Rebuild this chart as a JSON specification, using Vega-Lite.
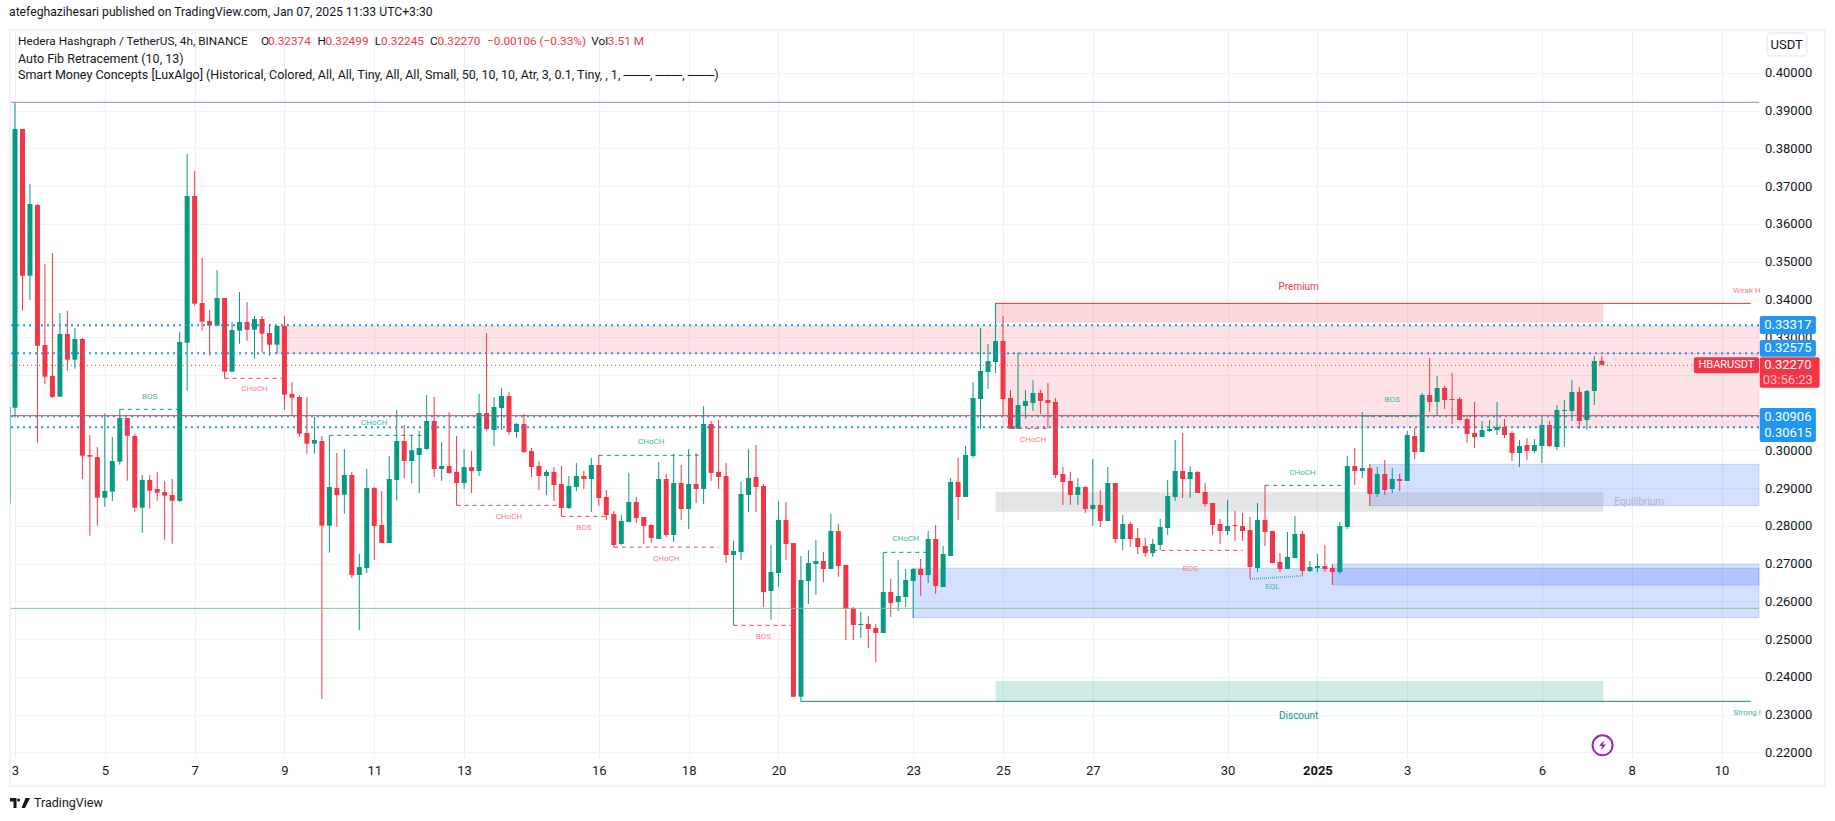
{"$schema":"https://vega.github.io/schema/vega-lite/v6.json","width":1748,"height":727,"autosize":{"type":"none"},"padding":{"left":11,"top":31,"right":76,"bottom":63},"background":"#ffffff","title":{"text":"atefeghazihesari published on TradingView.com, Jan 07, 2025 11:33 UTC+3:30","anchor":"start","frame":"group","fontSize":12.2,"fontWeight":"normal","font":"Roboto","color":"#131722","offset":11,"dx":-2},"config":{"view":{"stroke":null},"font":"Roboto"},
"resolve":{"scale":{"color":"independent","fill":"independent","stroke":"independent"}},
"datasets":{
"candles":[
{"x":0,"o":0.31132,"h":0.39221,"l":0.30867,"c":0.38514},{"x":1,"o":0.38514,"h":0.38514,"l":0.33702,"c":0.34629},{"x":2,"o":0.34629,"h":0.37057,"l":0.33993,"c":0.36527},{"x":3,"o":0.36501,"h":0.36527,"l":0.30205,"c":0.32775},{"x":4,"o":0.32792,"h":0.34938,"l":0.31759,"c":0.31953},{"x":5,"o":0.31971,"h":0.35229,"l":0.31388,"c":0.31415},{"x":6,"o":0.31424,"h":0.3364,"l":0.31424,"c":0.33084},{"x":7,"o":0.33084,"h":0.33693,"l":0.32112,"c":0.32404},{"x":8,"o":0.32404,"h":0.33243,"l":0.32165,"c":0.32951},{"x":9,"o":0.32951,"h":0.32978,"l":0.29243,"c":0.29861},
{"x":10,"o":0.29878,"h":0.30408,"l":0.27741,"c":0.29834},{"x":11,"o":0.29825,"h":0.3009,"l":0.28006,"c":0.28748},{"x":12,"o":0.28748,"h":0.30982,"l":0.2851,"c":0.28925},{"x":13,"o":0.28907,"h":0.30355,"l":0.2866,"c":0.29719},{"x":14,"o":0.29702,"h":0.31088,"l":0.29622,"c":0.30859},{"x":15,"o":0.30859,"h":0.30859,"l":0.29198,"c":0.3039},{"x":16,"o":0.30382,"h":0.30435,"l":0.28377,"c":0.28483},{"x":17,"o":0.28483,"h":0.29349,"l":0.27821,"c":0.29216},{"x":18,"o":0.29216,"h":0.29349,"l":0.28457,"c":0.28933},{"x":19,"o":0.28978,"h":0.29428,"l":0.28669,"c":0.28881},
{"x":20,"o":0.28898,"h":0.2919,"l":0.27636,"c":0.28801},{"x":21,"o":0.28819,"h":0.29243,"l":0.2753,"c":0.28669},{"x":22,"o":0.2866,"h":0.33137,"l":0.28633,"c":0.32872},{"x":23,"o":0.32854,"h":0.37852,"l":0.31583,"c":0.36739},{"x":24,"o":0.36739,"h":0.37401,"l":0.33834,"c":0.33887},{"x":25,"o":0.33905,"h":0.35097,"l":0.33172,"c":0.3341},{"x":26,"o":0.33428,"h":0.33719,"l":0.3251,"c":0.33304},{"x":27,"o":0.33304,"h":0.34779,"l":0.33304,"c":0.34037},{"x":28,"o":0.34037,"h":0.34037,"l":0.31909,"c":0.32086},{"x":29,"o":0.32086,"h":0.33402,"l":0.32086,"c":0.3319},
{"x":30,"o":0.33172,"h":0.34196,"l":0.32828,"c":0.33402},{"x":31,"o":0.33402,"h":0.33931,"l":0.32907,"c":0.33198},{"x":32,"o":0.33198,"h":0.3356,"l":0.3243,"c":0.33481},{"x":33,"o":0.33481,"h":0.3356,"l":0.32589,"c":0.33093},{"x":34,"o":0.3311,"h":0.33349,"l":0.3251,"c":0.32801},{"x":35,"o":0.32801,"h":0.33296,"l":0.32563,"c":0.33296},{"x":36,"o":0.33296,"h":0.3356,"l":0.31079,"c":0.31477},{"x":37,"o":0.31494,"h":0.31812,"l":0.3092,"c":0.31397},{"x":38,"o":0.31415,"h":0.31468,"l":0.30364,"c":0.30443},{"x":39,"o":0.30461,"h":0.31415,"l":0.29914,"c":0.30179},
{"x":40,"o":0.30179,"h":0.30894,"l":0.29914,"c":0.30276},{"x":41,"o":0.30249,"h":0.30382,"l":0.23415,"c":0.28006},{"x":42,"o":0.28006,"h":0.30399,"l":0.27292,"c":0.29031},{"x":43,"o":0.29004,"h":0.29931,"l":0.2798,"c":0.28819},{"x":44,"o":0.28828,"h":0.30037,"l":0.28324,"c":0.29349},{"x":45,"o":0.29349,"h":0.29428,"l":0.2662,"c":0.267},{"x":46,"o":0.267,"h":0.27256,"l":0.25243,"c":0.26911},{"x":47,"o":0.26885,"h":0.29508,"l":0.26753,"c":0.29004},{"x":48,"o":0.29004,"h":0.29031,"l":0.27097,"c":0.27998},{"x":49,"o":0.28024,"h":0.28925,"l":0.27547,"c":0.27547},
{"x":50,"o":0.27547,"h":0.29852,"l":0.27547,"c":0.29243},{"x":51,"o":0.29216,"h":0.3107,"l":0.28669,"c":0.30249},{"x":52,"o":0.30249,"h":0.30673,"l":0.29269,"c":0.29719},{"x":53,"o":0.29719,"h":0.30408,"l":0.29128,"c":0.30005},{"x":54,"o":0.29878,"h":0.30514,"l":0.28872,"c":0.30064},{"x":55,"o":0.30037,"h":0.31468,"l":0.30011,"c":0.30779},{"x":56,"o":0.30779,"h":0.31415,"l":0.29296,"c":0.29508},{"x":57,"o":0.29508,"h":0.30223,"l":0.2919,"c":0.29587},{"x":58,"o":0.29587,"h":0.31011,"l":0.29375,"c":0.29402},{"x":59,"o":0.29428,"h":0.30382,"l":0.28545,"c":0.29137},
{"x":60,"o":0.29137,"h":0.30037,"l":0.28978,"c":0.2956},{"x":61,"o":0.2956,"h":0.29984,"l":0.28872,"c":0.29455},{"x":62,"o":0.29455,"h":0.31494,"l":0.29322,"c":0.30991},{"x":63,"o":0.30991,"h":0.3311,"l":0.30514,"c":0.30567},{"x":64,"o":0.30541,"h":0.31415,"l":0.30117,"c":0.3115},{"x":65,"o":0.31123,"h":0.31653,"l":0.30541,"c":0.31441},{"x":66,"o":0.31441,"h":0.31547,"l":0.30408,"c":0.30488},{"x":67,"o":0.30488,"h":0.30726,"l":0.30329,"c":0.307},{"x":68,"o":0.307,"h":0.30964,"l":0.29932,"c":0.29958},{"x":69,"o":0.29984,"h":0.30064,"l":0.29296,"c":0.2956},
{"x":70,"o":0.29587,"h":0.29719,"l":0.28951,"c":0.29322},{"x":71,"o":0.29322,"h":0.29481,"l":0.28819,"c":0.29428},{"x":72,"o":0.29428,"h":0.2956,"l":0.2866,"c":0.29084},{"x":73,"o":0.2911,"h":0.29587,"l":0.28262,"c":0.28474},{"x":74,"o":0.28474,"h":0.29322,"l":0.28448,"c":0.29057},{"x":75,"o":0.29031,"h":0.29667,"l":0.28925,"c":0.29322},{"x":76,"o":0.29322,"h":0.29455,"l":0.28978,"c":0.29243},{"x":77,"o":0.29243,"h":0.29799,"l":0.28368,"c":0.29613},{"x":78,"o":0.29613,"h":0.29878,"l":0.28527,"c":0.28739},{"x":79,"o":0.28766,"h":0.28951,"l":0.28157,"c":0.28289},
{"x":80,"o":0.28315,"h":0.28395,"l":0.27441,"c":0.27494},{"x":81,"o":0.27521,"h":0.28289,"l":0.27494,"c":0.2813},{"x":82,"o":0.28104,"h":0.29402,"l":0.28104,"c":0.28633},{"x":83,"o":0.28633,"h":0.28766,"l":0.28077,"c":0.2821},{"x":84,"o":0.28236,"h":0.28236,"l":0.27521,"c":0.27998},{"x":85,"o":0.28024,"h":0.28051,"l":0.27547,"c":0.2768},{"x":86,"o":0.27653,"h":0.29693,"l":0.27653,"c":0.29243},{"x":87,"o":0.29243,"h":0.29375,"l":0.27706,"c":0.27759},{"x":88,"o":0.27759,"h":0.29905,"l":0.27574,"c":0.29137},{"x":89,"o":0.29137,"h":0.29614,"l":0.28157,"c":0.28448},
{"x":90,"o":0.28448,"h":0.30038,"l":0.27918,"c":0.2911},{"x":91,"o":0.2911,"h":0.29932,"l":0.28607,"c":0.28978},{"x":92,"o":0.28978,"h":0.31177,"l":0.28581,"c":0.307},{"x":93,"o":0.307,"h":0.30779,"l":0.2919,"c":0.29402},{"x":94,"o":0.29428,"h":0.30806,"l":0.28978,"c":0.29296},{"x":95,"o":0.29322,"h":0.29667,"l":0.27018,"c":0.2723},{"x":96,"o":0.2723,"h":0.27601,"l":0.25367,"c":0.27336},{"x":97,"o":0.27309,"h":0.29163,"l":0.27097,"c":0.28846},{"x":98,"o":0.28819,"h":0.30038,"l":0.28369,"c":0.2927},{"x":99,"o":0.29296,"h":0.30144,"l":0.28369,"c":0.29031},
{"x":100,"o":0.29057,"h":0.2911,"l":0.25852,"c":0.2625},{"x":101,"o":0.26276,"h":0.27495,"l":0.25517,"c":0.26779},{"x":102,"o":0.26753,"h":0.2866,"l":0.26382,"c":0.28157},{"x":103,"o":0.28157,"h":0.28634,"l":0.27097,"c":0.27521},{"x":104,"o":0.27548,"h":0.27548,"l":0.23477,"c":0.23477},{"x":105,"o":0.23477,"h":0.27203,"l":0.23353,"c":0.26567},{"x":106,"o":0.26541,"h":0.27362,"l":0.25932,"c":0.27018},{"x":107,"o":0.26991,"h":0.27627,"l":0.2617,"c":0.27071},{"x":108,"o":0.27071,"h":0.27309,"l":0.26514,"c":0.26859},{"x":109,"o":0.26859,"h":0.28316,"l":0.26859,"c":0.27865},
{"x":110,"o":0.27865,"h":0.28051,"l":0.26647,"c":0.26938},{"x":111,"o":0.26965,"h":0.26965,"l":0.24978,"c":0.25799},{"x":112,"o":0.25826,"h":0.25852,"l":0.24978,"c":0.25375},{"x":113,"o":0.25375,"h":0.2572,"l":0.25031,"c":0.25402},{"x":114,"o":0.25402,"h":0.25614,"l":0.24766,"c":0.25269},{"x":115,"o":0.25296,"h":0.25402,"l":0.24395,"c":0.25163},{"x":116,"o":0.25163,"h":0.273,"l":0.25163,"c":0.2625},{"x":117,"o":0.2625,"h":0.26594,"l":0.25587,"c":0.25958},{"x":118,"o":0.25985,"h":0.27097,"l":0.25746,"c":0.26144},{"x":119,"o":0.26117,"h":0.26859,"l":0.25852,"c":0.26567},
{"x":120,"o":0.26541,"h":0.26877,"l":0.25561,"c":0.26859},{"x":121,"o":0.26859,"h":0.27124,"l":0.26144,"c":0.267},{"x":122,"o":0.267,"h":0.27865,"l":0.26488,"c":0.27653},{"x":123,"o":0.27653,"h":0.28024,"l":0.26197,"c":0.26408},{"x":124,"o":0.26382,"h":0.27468,"l":0.26382,"c":0.27256},{"x":125,"o":0.27203,"h":0.29269,"l":0.27203,"c":0.29163},{"x":126,"o":0.29163,"h":0.29799,"l":0.28157,"c":0.28766},{"x":127,"o":0.28766,"h":0.30117,"l":0.28766,"c":0.29879},{"x":128,"o":0.29852,"h":0.31812,"l":0.29799,"c":0.31389},{"x":129,"o":0.31362,"h":0.33243,"l":0.30567,"c":0.32104},
{"x":130,"o":0.32077,"h":0.32819,"l":0.31627,"c":0.32369},{"x":131,"o":0.32342,"h":0.33905,"l":0.32051,"c":0.32899},{"x":132,"o":0.32899,"h":0.33561,"l":0.30938,"c":0.31362},{"x":133,"o":0.31389,"h":0.31601,"l":0.30577,"c":0.30577},{"x":134,"o":0.30577,"h":0.32599,"l":0.30577,"c":0.31204},{"x":135,"o":0.31177,"h":0.31601,"l":0.30833,"c":0.3131},{"x":136,"o":0.31257,"h":0.31866,"l":0.31045,"c":0.31522},{"x":137,"o":0.31522,"h":0.31601,"l":0.30965,"c":0.3131},{"x":138,"o":0.31336,"h":0.31786,"l":0.30594,"c":0.31257},{"x":139,"o":0.31283,"h":0.31389,"l":0.2927,"c":0.29349},
{"x":140,"o":0.29376,"h":0.29561,"l":0.28555,"c":0.29164},{"x":141,"o":0.2919,"h":0.29429,"l":0.28555,"c":0.2882},{"x":142,"o":0.2882,"h":0.2927,"l":0.28555,"c":0.29031},{"x":143,"o":0.29031,"h":0.29058,"l":0.28343,"c":0.28449},{"x":144,"o":0.28449,"h":0.29773,"l":0.27998,"c":0.28555},{"x":145,"o":0.28555,"h":0.28952,"l":0.27972,"c":0.28131},{"x":146,"o":0.28131,"h":0.29561,"l":0.28131,"c":0.29137},{"x":147,"o":0.29137,"h":0.29137,"l":0.27548,"c":0.27654},{"x":148,"o":0.27654,"h":0.2829,"l":0.2736,"c":0.28051},{"x":149,"o":0.28051,"h":0.28104,"l":0.27442,"c":0.27654},
{"x":150,"o":0.2768,"h":0.27945,"l":0.2725,"c":0.27442},{"x":151,"o":0.27469,"h":0.2768,"l":0.2718,"c":0.2728},{"x":152,"o":0.2728,"h":0.27654,"l":0.2718,"c":0.27522},{"x":153,"o":0.27495,"h":0.28184,"l":0.27363,"c":0.27972},{"x":154,"o":0.27945,"h":0.29217,"l":0.2776,"c":0.28793},{"x":155,"o":0.28767,"h":0.30276,"l":0.28661,"c":0.29455},{"x":156,"o":0.29455,"h":0.30462,"l":0.2874,"c":0.29243},{"x":157,"o":0.29243,"h":0.29588,"l":0.2874,"c":0.29429},{"x":158,"o":0.29429,"h":0.29455,"l":0.28873,"c":0.28873},{"x":159,"o":0.28899,"h":0.29137,"l":0.28502,"c":0.28581},
{"x":160,"o":0.28608,"h":0.28608,"l":0.2776,"c":0.28025},{"x":161,"o":0.28051,"h":0.28184,"l":0.27522,"c":0.27866},{"x":162,"o":0.27866,"h":0.28687,"l":0.2776,"c":0.27998},{"x":163,"o":0.28024,"h":0.28395,"l":0.27601,"c":0.27998},{"x":164,"o":0.27998,"h":0.28342,"l":0.27601,"c":0.27865},{"x":165,"o":0.27892,"h":0.28236,"l":0.26594,"c":0.26912},{"x":166,"o":0.26885,"h":0.28607,"l":0.26779,"c":0.28157},{"x":167,"o":0.28157,"h":0.29084,"l":0.27468,"c":0.27839},{"x":168,"o":0.27865,"h":0.27865,"l":0.27018,"c":0.27018},{"x":169,"o":0.27044,"h":0.27283,"l":0.26779,"c":0.26859},
{"x":170,"o":0.26859,"h":0.27839,"l":0.26859,"c":0.27177},{"x":171,"o":0.2715,"h":0.28263,"l":0.2715,"c":0.27786},{"x":172,"o":0.27786,"h":0.27865,"l":0.26673,"c":0.26806},{"x":173,"o":0.26806,"h":0.27071,"l":0.26779,"c":0.26912},{"x":174,"o":0.26885,"h":0.27256,"l":0.26779,"c":0.26938},{"x":175,"o":0.26938,"h":0.27495,"l":0.26779,"c":0.26859},{"x":176,"o":0.26885,"h":0.26991,"l":0.26435,"c":0.26779},{"x":177,"o":0.26779,"h":0.28104,"l":0.26726,"c":0.27998},{"x":178,"o":0.27971,"h":0.29852,"l":0.27918,"c":0.29587},{"x":179,"o":0.29587,"h":0.30064,"l":0.29084,"c":0.29455},
{"x":180,"o":0.29455,"h":0.31018,"l":0.29269,"c":0.29534},{"x":181,"o":0.29534,"h":0.2964,"l":0.28528,"c":0.28846},{"x":182,"o":0.28846,"h":0.29561,"l":0.28766,"c":0.29375},{"x":183,"o":0.29375,"h":0.29746,"l":0.28819,"c":0.28951},{"x":184,"o":0.28978,"h":0.29534,"l":0.28872,"c":0.29243},{"x":185,"o":0.29243,"h":0.29375,"l":0.28925,"c":0.2919},{"x":186,"o":0.2919,"h":0.30514,"l":0.2919,"c":0.30408},{"x":187,"o":0.30382,"h":0.30594,"l":0.29773,"c":0.29958},{"x":188,"o":0.29958,"h":0.31521,"l":0.29958,"c":0.31468},{"x":189,"o":0.31468,"h":0.32448,"l":0.31018,"c":0.31283},
{"x":190,"o":0.31283,"h":0.31971,"l":0.30912,"c":0.31653},{"x":191,"o":0.31653,"h":0.31706,"l":0.31097,"c":0.31336},{"x":192,"o":0.31362,"h":0.32051,"l":0.307,"c":0.31336},{"x":193,"o":0.31362,"h":0.31415,"l":0.30806,"c":0.30806},{"x":194,"o":0.30832,"h":0.30912,"l":0.30197,"c":0.30435},{"x":195,"o":0.30461,"h":0.31283,"l":0.30064,"c":0.30355},{"x":196,"o":0.30355,"h":0.30779,"l":0.30355,"c":0.30541},{"x":197,"o":0.30514,"h":0.30806,"l":0.30488,"c":0.30567},{"x":198,"o":0.30541,"h":0.31283,"l":0.30408,"c":0.3062},{"x":199,"o":0.3062,"h":0.30832,"l":0.30329,"c":0.30408},
{"x":200,"o":0.30461,"h":0.30514,"l":0.2972,"c":0.29932},{"x":201,"o":0.29932,"h":0.30276,"l":0.29561,"c":0.30117},{"x":202,"o":0.30144,"h":0.30329,"l":0.29746,"c":0.29985},{"x":203,"o":0.29985,"h":0.30302,"l":0.29932,"c":0.30144},{"x":204,"o":0.30117,"h":0.30859,"l":0.29667,"c":0.30673},{"x":205,"o":0.30673,"h":0.30779,"l":0.30091,"c":0.30117},{"x":206,"o":0.30091,"h":0.31203,"l":0.30011,"c":0.31071},{"x":207,"o":0.31044,"h":0.31336,"l":0.30091,"c":0.31071},{"x":208,"o":0.31044,"h":0.31865,"l":0.30779,"c":0.31548},{"x":209,"o":0.31548,"h":0.3168,"l":0.30567,"c":0.30779},
{"x":210,"o":0.30806,"h":0.316,"l":0.30541,"c":0.31574},{"x":211,"o":0.31574,"h":0.32501,"l":0.31203,"c":0.32369},{"x":212,"o":0.32374,"h":0.32499,"l":0.32245,"c":0.3227}],
"zones":[
{"kind":"redOB","x":35,"x2":233,"p":0.33296,"p2":0.32563},{"kind":"redOB","x":132,"x2":233,"p":0.32563,"p2":0.30612},{"kind":"premium","x":131,"x2":212.2,"p":0.33896,"p2":0.33384},
{"kind":"blue","x":120,"x2":233,"p":0.26877,"p2":0.2557},{"kind":"blue","x":176,"x2":233,"p":0.26991,"p2":0.26436},{"kind":"blue","x":181,"x2":233,"p":0.29632,"p2":0.28536},
{"kind":"equil","x":131,"x2":212.2,"p":0.28899,"p2":0.28373},{"kind":"discount","x":131,"x2":212.2,"p":0.23892,"p2":0.23353}],
"levels":[
{"kind":"fibTop","x":-0.534,"x2":233,"p":0.39221},{"kind":"fibRed","x":-0.534,"x2":233,"p":0.3092},{"kind":"fibGreen","x":-0.534,"x2":233,"p":0.25817},
{"kind":"high","x":131,"x2":231.9,"p":0.33896},{"kind":"low","x":105,"x2":231.9,"p":0.23353}],
"dotted":[{"x":-0.534,"x2":233,"p":0.33317},{"x":-0.534,"x2":233,"p":0.32575},{"x":-0.534,"x2":233,"p":0.30906},{"x":-0.534,"x2":233,"p":0.30615}],
"last":[{"x":-0.534,"x2":224.3,"p":0.32254}],
"struct":[
{"kind":"up","x":14,"x2":22,"p":0.31088},{"kind":"down","x":28,"x2":36,"p":0.3191},{"kind":"up","x":42,"x2":55,"p":0.304},{"kind":"down","x":59,"x2":73,"p":0.28545},{"kind":"down","x":73,"x2":79,"p":0.28254},{"kind":"down","x":80,"x2":94,"p":0.27437},{"kind":"up","x":78,"x2":92,"p":0.2987},{"kind":"down","x":96,"x2":104,"p":0.25367},{"kind":"up","x":116,"x2":122,"p":0.273},{"kind":"down","x":133,"x2":138,"p":0.30585},{"kind":"down","x":151,"x2":164,"p":0.27352},{"kind":"up","x":167,"x2":178,"p":0.29075},{"kind":"up","x":180,"x2":188,"p":0.30909}],
"eql":[{"x":165,"p":0.26594},{"x":172,"p":0.26674}],
"edge":[{"x":-0.6,"p":0.31159,"p2":0.28597}],
"tiny":[
{"x":18,"p":0.31424,"t":"BOS","kind":"up"},{"x":32,"p":0.31618,"t":"CHoCH","kind":"down"},{"x":48,"p":0.30718,"t":"CHoCH","kind":"up"},{"x":66,"p":0.28245,"t":"CHoCH","kind":"down"},{"x":76,"p":0.27954,"t":"BOS","kind":"down"},{"x":87,"p":0.27115,"t":"CHoCH","kind":"down"},{"x":85,"p":0.30214,"t":"CHoCH","kind":"up"},{"x":100,"p":0.25049,"t":"BOS","kind":"down"},{"x":119,"p":0.27644,"t":"CHoCH","kind":"up"},{"x":136,"p":0.30267,"t":"CHoCH","kind":"down"},{"x":157,"p":0.26866,"t":"BOS","kind":"down"},{"x":172,"p":0.29393,"t":"CHoCH","kind":"up"},{"x":184,"p":0.31327,"t":"BOS","kind":"up"},{"x":168,"p":0.2637,"t":"EQL","kind":"up"},{"x":231.4,"p":0.34215,"t":"Weak H","kind":"down"},{"x":231.4,"p":0.23052,"t":"Strong l","kind":"up"}],
"zoneText":[{"x":171.5,"p":0.34329,"t":"Premium","kind":"down"},{"x":171.5,"p":0.22954,"t":"Discount","kind":"up"},{"x":217,"p":0.28633,"t":"Equilibrium","kind":"gray"}],
"frame":[{"x":-0.67,"x2":241.8,"p":0.41137,"p2":0.2111}],
"tags":[
{"kind":"blue","x":233.1,"x2":240.6,"p":0.33561,"p2":0.33084},{"kind":"blue","x":233.1,"x2":240.6,"p":0.32925,"p2":0.32482},{"kind":"blue","x":233.1,"x2":240.6,"p":0.31124,"p2":0.30223},{"kind":"red","x":224.3,"x2":233,"p":0.32467,"p2":0.32041},{"kind":"red","x":233.1,"x2":241.1,"p":0.32467,"p2":0.31661}],
"tagText":[
{"x":236.85,"p":0.33322,"t":"0.33317","kind":"white"},{"x":236.85,"p":0.32704,"t":"0.32575","kind":"white"},{"x":236.85,"p":0.30893,"t":"0.30906","kind":"white"},{"x":236.85,"p":0.30453,"t":"0.30615","kind":"white"},{"x":236.85,"p":0.32254,"t":"0.32270","kind":"white"},{"x":236.85,"p":0.31857,"t":"03:56:23","kind":"pink"},{"x":236.7,"p":0.4075,"t":"USDT","kind":"ink"}],
"symbolTag":[{"x":228.65,"p":0.32254,"t":"HBARUSDT"}],
"legendTop":[
{"x":0.4,"p":0.40846,"t":"Hedera Hashgraph / TetherUS, 4h, BINANCE","kind":"ink"},{"x":32.87,"p":0.40846,"t":"O","kind":"ink"},{"x":33.8,"p":0.40846,"t":"0.32374","kind":"red"},{"x":40.4,"p":0.40846,"t":"H","kind":"ink"},{"x":41.5,"p":0.40846,"t":"0.32499","kind":"red"},{"x":48.06,"p":0.40846,"t":"L","kind":"ink"},{"x":48.9,"p":0.40846,"t":"0.32245","kind":"red"},{"x":55.44,"p":0.40846,"t":"C","kind":"ink"},{"x":56.45,"p":0.40846,"t":"0.32270","kind":"red"},{"x":63.06,"p":0.40846,"t":"−0.00106 (−0.33%)","kind":"red"},{"x":77,"p":0.40846,"t":"Vol","kind":"ink"},{"x":79.2,"p":0.40846,"t":"3.51 M","kind":"red"}],
"button":[{"x":234.07,"x2":239.4,"p":0.41057,"p2":0.40448}],
"header":[
{"x":0.4,"p":0.40379,"t":"Auto Fib Retracement (10, 13)"},{"x":0.4,"p":0.39945,"t":"Smart Money Concepts [LuxAlgo] (Historical, Colored, All, All, Tiny, All, All, Small, 50, 10, 10, Atr, 3, 0.1, Tiny, , 1, ───, ───, ───)"},
{"x":2.54,"p":0.2066,"t":"TradingView"}],
"logo":[{"x":0.67,"p":0.2066}],
"bolt":[{"x":212.1,"p":0.22188}]
},
"encoding":{
"x":{"field":"x","type":"quantitative","scale":{"domain":[-0.534,233],"nice":false,"zero":false,"padding":0},"axis":{"title":null,"values":[0,12,24,36,48,60,78,90,102,120,132,144,162,174,186,204,216,228],"labelExpr":"{'0':'3','12':'5','24':'7','36':'9','48':'11','60':'13','78':'16','90':'18','102':'20','120':'23','132':'25','144':'27','162':'30','174':'2025','186':'3','204':'6','216':'8','228':'10'}[''+datum.value]","grid":true,"gridColor":"#eff0f3","ticks":false,"domain":false,"labelPadding":6,"labelFontSize":13,"labelColor":"#131722","labelFont":"Roboto","labelFlush":false,"labelOverlap":false,"labelBound":false,"labelFontWeight":{"condition":{"test":"datum.value==174","value":"bold"},"value":"normal"}}},
"y":{"field":"p","type":"quantitative","scale":{"domain":[0.218522,0.411104],"nice":false,"zero":false,"padding":0},"axis":{"title":null,"orient":"right","values":[0.22,0.23,0.24,0.25,0.26,0.27,0.28,0.29,0.3,0.31,0.32,0.33,0.34,0.35,0.36,0.37,0.38,0.39,0.4],"format":".5f","grid":true,"gridColor":"#f2f3f5","ticks":false,"domain":false,"labelPadding":5.5,"labelFontSize":13,"labelColor":"#131722","labelFont":"Roboto","labelOverlap":false,"labelFlush":false,"labelBound":false}}
},
"layer":[
{"data":{"name":"frame"},"mark":{"type":"rect","fill":null,"stroke":"#f0f3fa","strokeWidth":2},"encoding":{"x2":{"field":"x2"},"y2":{"field":"p2"}}},
{"data":{"name":"zones"},"mark":{"type":"rect","strokeWidth":1},"encoding":{"x2":{"field":"x2"},"y2":{"field":"p2"},"fill":{"field":"kind","type":"nominal","legend":null,"scale":{"domain":["redOB","premium","blue","equil","discount"],"range":["#f2364624","#f2364633","#2962ff33","#787b8633","#08998133"]}},"stroke":{"field":"kind","type":"nominal","legend":null,"scale":{"domain":["redOB","premium","blue","equil","discount"],"range":["#f2364622","#ffffff00","#2962ff33","#ffffff00","#ffffff00"]}}}},
{"data":{"name":"candles"},"mark":{"type":"rule","strokeWidth":1},"encoding":{"y":{"field":"l","type":"quantitative","axis":{"title":null}},"y2":{"field":"h"},"color":{"condition":{"test":"datum.c>=datum.o","value":"#089981"},"value":"#f23645"}}},
{"data":{"name":"candles"},"mark":{"type":"bar","size":5,"orient":"vertical"},"encoding":{"y":{"field":"o","type":"quantitative","axis":{"title":null}},"y2":{"field":"c"},"color":{"condition":{"test":"datum.c>=datum.o","value":"#089981"},"value":"#f23645"}}},
{"data":{"name":"edge"},"mark":{"type":"rule","strokeWidth":1,"color":"#6cc5b4"},"encoding":{"y2":{"field":"p2"}}},
{"data":{"name":"levels"},"mark":{"type":"rule","strokeWidth":1},"encoding":{"x2":{"field":"x2"},"color":{"field":"kind","type":"nominal","legend":null,"scale":{"domain":["fibTop","fibRed","fibGreen","high","low"],"range":["#8a91bd","#e53935","#81c784","#d9363e","#1a8a6d"]}}}},
{"data":{"name":"dotted"},"mark":{"type":"rule","strokeWidth":2,"color":"#2196f3","strokeDash":[2,4]},"encoding":{"x2":{"field":"x2"}}},
{"data":{"name":"last"},"mark":{"type":"rule","strokeWidth":1,"color":"#f23645","strokeDash":[1,3]},"encoding":{"x2":{"field":"x2"}}},
{"data":{"name":"struct"},"mark":{"type":"rule","strokeWidth":1,"strokeDash":[4,4]},"encoding":{"x2":{"field":"x2"},"color":{"field":"kind","type":"nominal","legend":null,"scale":{"domain":["up","down"],"range":["#089981","#f23645"]}}}},
{"data":{"name":"eql"},"mark":{"type":"line","strokeWidth":2,"color":"#5cbfae","strokeDash":[1,1]},"encoding":{}},
{"data":{"name":"tiny"},"mark":{"type":"text","fontSize":8,"align":"center","baseline":"middle","font":"Roboto"},"encoding":{"text":{"field":"t"},"color":{"field":"kind","type":"nominal","legend":null,"scale":{"domain":["up","down"],"range":["#40b8a0","#f97c87"]}}}},
{"data":{"name":"zoneText"},"mark":{"type":"text","fontSize":10,"align":"center","baseline":"middle","font":"Roboto"},"encoding":{"text":{"field":"t"},"color":{"field":"kind","type":"nominal","legend":null,"scale":{"domain":["up","down","gray"],"range":["#089981","#f23645","#b2b5be"]}}}},
{"data":{"name":"tags"},"mark":{"type":"rect","cornerRadius":2},"encoding":{"x2":{"field":"x2"},"y2":{"field":"p2"},"fill":{"field":"kind","type":"nominal","legend":null,"scale":{"domain":["blue","red"],"range":["#2196f3","#f23645"]}}}},
{"data":{"name":"button"},"mark":{"type":"rect","fill":"#ffffff","stroke":"#e0e3eb","cornerRadius":4},"encoding":{"x2":{"field":"x2"},"y2":{"field":"p2"}}},
{"data":{"name":"tagText"},"mark":{"type":"text","fontSize":13,"align":"center","baseline":"middle","font":"Roboto"},"encoding":{"text":{"field":"t"},"color":{"field":"kind","type":"nominal","legend":null,"scale":{"domain":["white","pink","ink"],"range":["#ffffff","#fbc1c7","#131722"]}}}},
{"data":{"name":"symbolTag"},"mark":{"type":"text","fontSize":11,"align":"center","baseline":"middle","font":"Roboto","color":"#ffffff"},"encoding":{"text":{"field":"t"}}},
{"data":{"name":"legendTop"},"mark":{"type":"text","fontSize":11.8,"align":"left","baseline":"middle","font":"Roboto"},"encoding":{"text":{"field":"t"},"color":{"field":"kind","type":"nominal","legend":null,"scale":{"domain":["ink","red"],"range":["#131722","#f23645"]}}}},
{"data":{"name":"header"},"mark":{"type":"text","fontSize":12.5,"align":"left","baseline":"middle","font":"Roboto","color":"#131722"},"encoding":{"text":{"field":"t"}}},
{"data":{"name":"logo"},"mark":{"type":"point","filled":true,"opacity":1,"color":"#131722","size":400,"shape":"M-1 -0.5 L-0.35 -0.5 L-0.35 0.5 L-0.65 0.5 L-0.65 -0.15 L-1 -0.15 Z M1 -0.5 L0.5 0.5 L0.15 0.5 L0.55 -0.5 Z M-0.3 -0.3 A0.15 0.15 0 1 0 0 -0.3 A0.15 0.15 0 1 0 -0.3 -0.3 Z"},"encoding":{}},
{"data":{"name":"bolt"},"mark":{"type":"point","filled":false,"opacity":1,"color":"#9c27b0","strokeWidth":2,"size":400,"shape":"circle"},"encoding":{}},
{"data":{"name":"bolt"},"mark":{"type":"point","filled":true,"opacity":1,"color":"#9c27b0","size":100,"shape":"M0.3 -1 L-0.7 0.15 L-0.1 0.15 L-0.3 1 L0.7 -0.15 L0.1 -0.15 Z"},"encoding":{}}
]}
